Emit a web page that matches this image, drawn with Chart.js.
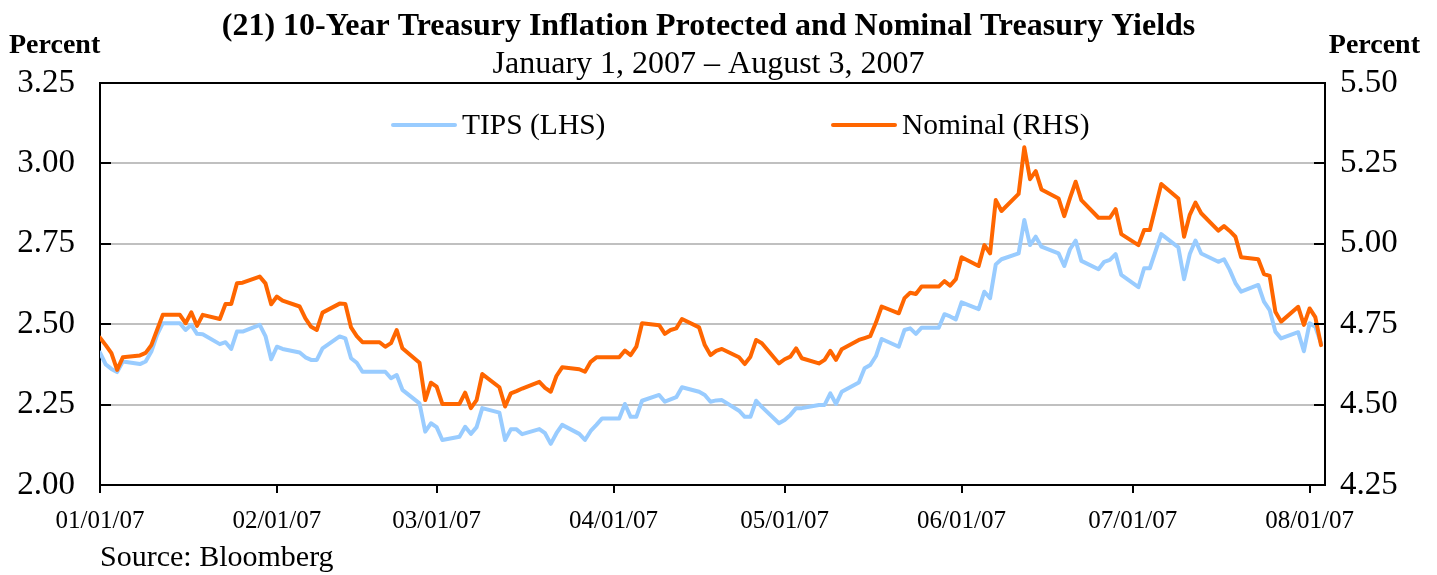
<!DOCTYPE html>
<html>
<head>
<meta charset="utf-8">
<script src="https://cdn.jsdelivr.net/npm/chart.js@4.4.0/dist/chart.umd.min.js"></script>
<style>
  html, body { margin: 0; padding: 0; background: #fff; }
</style>
</head>
<body>
<canvas id="grafico" width="1437" height="575"></canvas>
<script>
// days since 01/01/07 (business days)
const days = [
  0, 1, 2, 3, 4,   7, 8, 9, 10, 11,   14, 15, 16, 17, 18,   21, 22, 23, 24, 25,
  28, 29, 30, 31, 32,   35, 36, 37, 38, 39,   42, 43, 44, 45, 46,   49, 50, 51, 52, 53,
  56, 57, 58, 59, 60,   63, 64, 65, 66, 67,   70, 71, 72, 73, 74,   77, 78, 79, 80, 81,
  84, 85, 86, 87, 88,   91, 92, 93, 94, 95,   98, 99, 100, 101, 102,   105, 106, 107, 108, 109,
  112, 113, 114, 115, 116,   119, 120, 121, 122, 123,   126, 127, 128, 129, 130,   133, 134, 135, 136, 137,
  140, 141, 142, 143, 144,   147, 148, 149, 150, 151,   154, 155, 156, 157, 158,   161, 162, 163, 164, 165,
  168, 169, 170, 171, 172,   175, 176, 177, 178, 179,   182, 183, 184, 186,   189, 190, 191, 192, 193,
  196, 197, 198, 199, 200,   203, 204, 205, 206, 207,   210, 211, 212, 213, 214
];
const tips = [
  2.412, 2.375, 2.361, 2.351, 2.384,   2.376, 2.384, 2.415, 2.467, 2.503,   2.503, 2.482, 2.498, 2.470, 2.469,   2.438, 2.444, 2.423, 2.477, 2.477,
  2.498, 2.463, 2.391, 2.430, 2.423,   2.412, 2.397, 2.389, 2.389, 2.425,   2.462, 2.456, 2.394, 2.380, 2.352,   2.352, 2.352, 2.332, 2.342, 2.296,
  2.254, 2.166, 2.192, 2.180, 2.140,   2.150, 2.181, 2.159, 2.180, 2.239,   2.225, 2.140, 2.173, 2.173, 2.158,   2.174, 2.161, 2.128, 2.161, 2.187,
  2.159, 2.140, 2.168, 2.187, 2.207,   2.207, 2.252, 2.212, 2.212, 2.262,   2.280, 2.259, 2.266, 2.273, 2.304,   2.290, 2.280, 2.259, 2.263, 2.264,
  2.231, 2.212, 2.212, 2.262, 2.243,   2.192, 2.202, 2.218, 2.239, 2.239,   2.249, 2.249, 2.285, 2.252, 2.290,   2.319, 2.363, 2.373, 2.401, 2.454,
  2.430, 2.482, 2.487, 2.470, 2.489,   2.489, 2.531, 2.524, 2.515, 2.568,   2.547, 2.601, 2.581, 2.686, 2.702,   2.720, 2.824, 2.746, 2.772, 2.741,
  2.720, 2.681, 2.733, 2.760, 2.697,   2.671, 2.694, 2.700, 2.718, 2.653,   2.615, 2.674, 2.674, 2.780,   2.739, 2.640, 2.718, 2.760, 2.720,
  2.694, 2.702, 2.669, 2.628, 2.601,   2.622, 2.570, 2.544, 2.477, 2.456,   2.475, 2.416, 2.503, 2.492, 2.441
];
const nominal = [
  4.708, 4.685, 4.660, 4.608, 4.647,   4.653, 4.661, 4.685, 4.732, 4.779,   4.779, 4.753, 4.787, 4.745, 4.779,   4.766, 4.813, 4.813, 4.877, 4.879,
  4.898, 4.877, 4.812, 4.836, 4.823,   4.805, 4.768, 4.742, 4.732, 4.786,   4.814, 4.813, 4.740, 4.713, 4.694,   4.694, 4.680, 4.691, 4.732, 4.675,
  4.630, 4.514, 4.568, 4.556, 4.502,   4.502, 4.537, 4.489, 4.514, 4.595,   4.554, 4.494, 4.535, 4.542, 4.550,   4.571, 4.552, 4.540, 4.589, 4.616,
  4.610, 4.602, 4.633, 4.647, 4.647,   4.647, 4.668, 4.654, 4.680, 4.753,   4.747, 4.720, 4.732, 4.737, 4.766,   4.740, 4.685, 4.654, 4.667, 4.673,
  4.647, 4.626, 4.649, 4.701, 4.691,   4.628, 4.641, 4.649, 4.675, 4.644,   4.628, 4.639, 4.667, 4.639, 4.672,   4.701, 4.707, 4.713, 4.755, 4.805,
  4.784, 4.831, 4.848, 4.844, 4.867,   4.867, 4.884, 4.870, 4.890, 4.958,   4.931, 4.996, 4.970, 5.136, 5.102,   5.155, 5.300, 5.201, 5.226, 5.169,
  5.141, 5.086, 5.142, 5.193, 5.136,   5.081, 5.081, 5.081, 5.108, 5.030,   4.996, 5.043, 5.043, 5.186,   5.141, 5.022, 5.090, 5.128, 5.095,
  5.041, 5.055, 5.040, 5.022, 4.958,   4.952, 4.906, 4.900, 4.789, 4.758,   4.804, 4.748, 4.799, 4.772, 4.685
];
const monthTicks = [0, 31, 59, 90, 120, 151, 181, 212];
const monthLabels = ['01/01/07', '02/01/07', '03/01/07', '04/01/07', '05/01/07', '06/01/07', '07/01/07', '08/01/07'];
const leftTicks = [2.00, 2.25, 2.50, 2.75, 3.00, 3.25];
const rightTicks = [4.25, 4.50, 4.75, 5.00, 5.25, 5.50];

const serif = '"Liberation Serif", "Times New Roman", serif';

const extras = {
  id: 'extras',
  afterDraw(chart) {
    const { ctx, chartArea: a, scales } = chart;
    ctx.save();
    // short inner tick marks on both value axes
    ctx.strokeStyle = '#000';
    ctx.lineWidth = 2;
    scales.y.ticks.forEach(t => {
      const py = Math.round(scales.y.getPixelForValue(t.value));
      ctx.beginPath(); ctx.moveTo(a.left, py); ctx.lineTo(a.left + 11, py); ctx.stroke();
    });
    scales.y2.ticks.forEach(t => {
      const py = Math.round(scales.y2.getPixelForValue(t.value));
      ctx.beginPath(); ctx.moveTo(a.right - 11, py); ctx.lineTo(a.right, py); ctx.stroke();
    });
    // axis unit labels
    ctx.fillStyle = '#000';
    ctx.font = 'bold 28px ' + serif;
    ctx.textBaseline = 'alphabetic';
    ctx.textAlign = 'left';
    ctx.fillText('Percent', 9, 53);
    ctx.textAlign = 'right';
    ctx.fillText('Percent', 1420, 53);
    // legend inside the plot
    const ly = a.top + 42;
    const lx = [a.left + 293, a.left + 733];
    ctx.font = '29.5px ' + serif;
    ctx.textAlign = 'left';
    ctx.textBaseline = 'middle';
    ctx.lineCap = 'round';
    chart.data.datasets.forEach((ds, i) => {
      ctx.strokeStyle = ds.borderColor;
      ctx.lineWidth = 4;
      ctx.beginPath(); ctx.moveTo(lx[i], ly); ctx.lineTo(lx[i] + 62, ly); ctx.stroke();
      ctx.fillText(ds.label, lx[i] + 69, ly + 1);
    });
    ctx.restore();
  }
};

new Chart(document.getElementById('grafico'), {
  type: 'line',
  data: {
    datasets: [
      {
        label: 'TIPS (LHS)',
        data: days.map((d, i) => ({ x: d, y: tips[i] })),
        borderColor: '#99CCFF',
        yAxisID: 'y',
        order: 1
      },
      {
        label: 'Nominal (RHS)',
        data: days.map((d, i) => ({ x: d, y: nominal[i] })),
        borderColor: '#FF6600',
        yAxisID: 'y2',
        order: 0
      }
    ]
  },
  options: {
    responsive: false,
    devicePixelRatio: 1,
    animation: false,
    events: [],
    layout: { padding: { top: 0, left: 0, right: 20, bottom: 0 } },
    elements: {
      point: { radius: 0 },
      line: { borderWidth: 4, tension: 0, borderJoinStyle: 'round', borderCapStyle: 'round', fill: false }
    },
    plugins: {
      legend: { display: false },
      tooltip: { enabled: false },
      title: {
        display: true,
        text: '(21) 10-Year Treasury Inflation Protected and Nominal Treasury Yields',
        color: '#000',
        font: { family: serif, size: 32, weight: 'bold', lineHeight: 1 },
        padding: { top: 11, bottom: 0 }
      },
      subtitle: {
        display: true,
        text: 'January 1, 2007 \u2013 August 3, 2007',
        color: '#000',
        font: { family: serif, size: 32, lineHeight: 1 },
        padding: { top: 6, bottom: 2 }
      }
    },
    scales: {
      x: {
        type: 'linear',
        min: 0,
        max: 214.7,
        afterBuildTicks: s => { s.ticks = monthTicks.map(v => ({ value: v })); },
        afterFit: s => { s.height = 90; },
        ticks: {
          autoSkip: false,
          maxRotation: 0,
          padding: 13,
          color: '#000',
          font: { family: serif, size: 25 },
          callback: v => monthLabels[monthTicks.indexOf(v)]
        },
        grid: { display: true, drawOnChartArea: false, drawTicks: true, tickLength: 8, color: '#000', lineWidth: 2 },
        border: { display: true, color: '#000', width: 2 },
        title: {
          display: true,
          text: 'Source: Bloomberg',
          align: 'start',
          color: '#000',
          font: { family: serif, size: 30, lineHeight: 1 },
          padding: { top: 0, bottom: 2 }
        }
      },
      y: {
        position: 'left',
        min: 2.0,
        max: 3.25,
        afterBuildTicks: s => { s.ticks = leftTicks.map(v => ({ value: v })); },
        afterFit: s => { s.width = 100; },
        ticks: {
          padding: 25,
          color: '#000',
          font: { family: serif, size: 33 },
          callback: v => v.toFixed(2)
        },
        grid: {
          drawTicks: false,
          lineWidth: 2,
          color: c => (c.tick && (c.tick.value === 3.25 || c.tick.value === 2.0)) ? '#000' : '#c0c0c0'
        },
        border: { display: true, color: '#000', width: 2 }
      },
      y2: {
        position: 'right',
        min: 4.25,
        max: 5.5,
        afterBuildTicks: s => { s.ticks = rightTicks.map(v => ({ value: v })); },
        afterFit: s => { s.width = 92; },
        ticks: {
          padding: 15,
          color: '#000',
          font: { family: serif, size: 33 },
          callback: v => v.toFixed(2)
        },
        grid: { drawOnChartArea: false, drawTicks: false },
        border: { display: true, color: '#000', width: 2 }
      }
    }
  },
  plugins: [extras]
});
</script>
</body>
</html>
